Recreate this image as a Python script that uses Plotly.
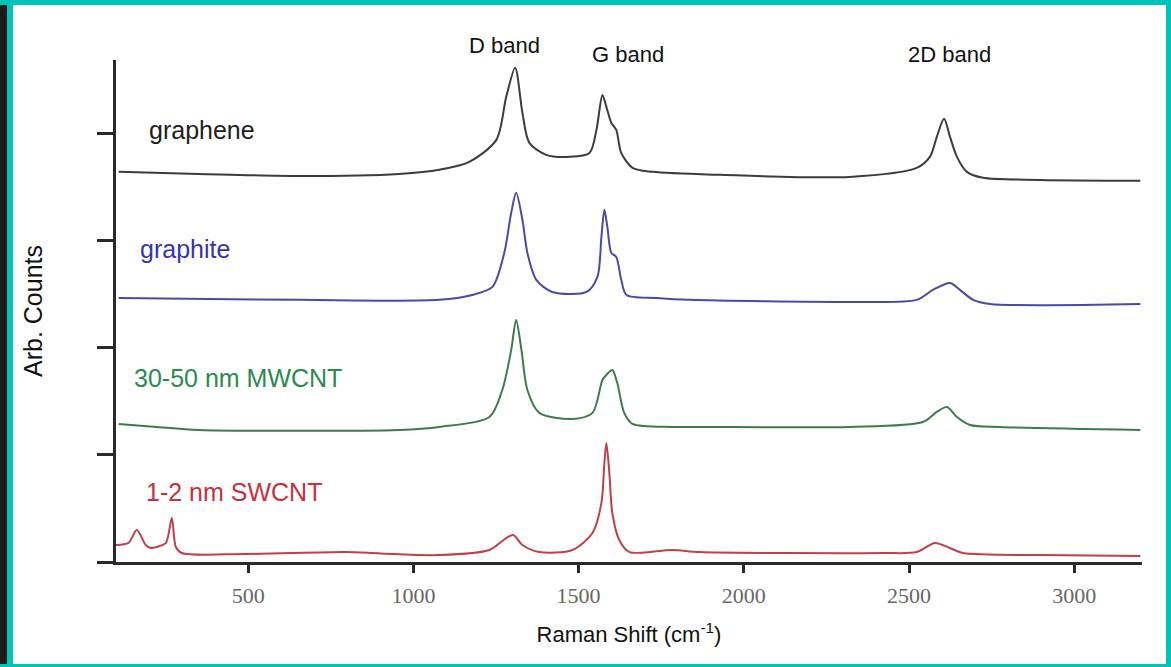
import plotly.graph_objects as go

# Raman shift (cm^-1) and stacked intensity (arb. units) for each sample
graphene_shift = [108, 351, 654, 957, 1078, 1169, 1251, 1281, 1308, 1330, 1351, 1402, 1472, 1533,
                  1554, 1572, 1584, 1599, 1614, 1629, 1663, 1724, 1927, 2320, 2523, 2563, 2584,
                  2606, 2624, 2645, 2675, 2724, 2900, 3200]
graphene_counts = [3.645, 3.626, 3.607, 3.626, 3.664, 3.738, 3.944, 4.346, 4.617, 4.196, 3.916, 3.804,
                   3.785, 3.822, 4.037, 4.364, 4.252, 4.103, 4.037, 3.822, 3.682, 3.645, 3.617, 3.598,
                   3.682, 3.785, 3.972, 4.140, 3.972, 3.785, 3.645, 3.589, 3.570, 3.561]

graphite_shift = [108, 654, 1078, 1178, 1239, 1275, 1296, 1311, 1330, 1345, 1372, 1420, 1524, 1557,
                  1569, 1578, 1587, 1599, 1614, 1629, 1645, 1736, 1836, 2320, 2523, 2572, 2624,
                  2654, 2694, 2745, 3200]
graphite_counts = [2.467, 2.449, 2.449, 2.495, 2.570, 2.888, 3.262, 3.449, 3.196, 2.888, 2.636, 2.523,
                   2.523, 2.664, 3.037, 3.290, 3.131, 2.888, 2.850, 2.636, 2.495, 2.467, 2.449, 2.430,
                   2.449, 2.542, 2.607, 2.542, 2.449, 2.411, 2.411]

mwcnt_shift = [108, 223, 351, 957, 1078, 1230, 1269, 1296, 1311, 1327, 1345, 1381, 1481, 1542, 1572,
               1584, 1602, 1617, 1638, 1663, 1784, 1866, 2320, 2542, 2584, 2615, 2645, 2685, 2775, 3200]
mwcnt_counts = [1.290, 1.262, 1.234, 1.234, 1.262, 1.355, 1.607, 1.981, 2.262, 1.981, 1.607, 1.393,
                1.336, 1.393, 1.701, 1.748, 1.794, 1.673, 1.393, 1.290, 1.262, 1.262, 1.262, 1.308,
                1.402, 1.449, 1.355, 1.280, 1.262, 1.234]

swcnt_shift = [100, 138, 163, 190, 205, 223, 251, 269, 281, 299, 493, 796, 900, 1078, 1230, 1281,
               1302, 1330, 1381, 1481, 1542, 1569, 1578, 1584, 1593, 1602, 1623, 1654, 1784, 1866,
               2420, 2523, 2578, 2624, 2663, 2900, 3200]
swcnt_counts = [0.159, 0.178, 0.299, 0.159, 0.131, 0.140, 0.178, 0.411, 0.140, 0.084, 0.075, 0.093,
                0.080, 0.065, 0.112, 0.224, 0.252, 0.159, 0.093, 0.112, 0.271, 0.551, 0.925, 1.112,
                0.832, 0.458, 0.206, 0.093, 0.112, 0.093, 0.084, 0.093, 0.178, 0.131, 0.084, 0.065,
                0.056]

x_ticks = [500, 1000, 1500, 2000, 2500, 3000]
y_ticks = [0, 1, 2, 3, 4]

series = [
    (graphene_shift, graphene_counts, "#3c3c3c"),
    (graphite_shift, graphite_counts, "#4a4aa6"),
    (mwcnt_shift, mwcnt_counts, "#3f7a4e"),
    (swcnt_shift, swcnt_counts, "#c0404c"),
]

fig = go.Figure()
for xs, ys, col in series:
    fig.add_trace(go.Scatter(x=xs, y=ys, mode="lines",
                             line=dict(color=col, width=2, shape="spline", smoothing=0.8),
                             showlegend=False, hoverinfo="skip"))

sans = "Liberation Sans, Arial, sans-serif"

# page geometry
W, H = 1171, 667
L, R, T, B = 116, 1142, 60, 562
def px(xp):
    return (xp - L) / (R - L)
def py(yp):
    return (B - yp) / (B - T)

sample_labels = [
    ("graphene", 193, 4.04, "#1e1e1e"),
    ("graphite", 168, 2.92, "#3535b0"),
    ("30-50 nm MWCNT", 147, 1.72, "#2a8a50"),
    ("1-2 nm SWCNT", 184, 0.65, "#c8303c"),
]
for txt, xx, yy, col in sample_labels:
    fig.add_annotation(x=xx, y=yy, text=txt, showarrow=False, xanchor="left", yanchor="middle",
                       font=dict(family=sans, size=25, color=col))

# band names sit above the plotting area
band_labels = [("D band", 1275, 45), ("G band", 1648, 54), ("2D band", 2621, 54)]
for txt, xx, yp in band_labels:
    fig.add_annotation(x=xx, xref="x", y=py(yp), yref="paper", text=txt, showarrow=False,
                       xanchor="center", yanchor="middle",
                       font=dict(family=sans, size=22, color="#111111"))

# frame around the page
frame = [
    (0, 0, 7, H, "#1c1c1c"),
    (7, 0, 13, H, "#00c4b8"),
    (0, 0, W, 5, "#00c4b8"),
    (0, 664, W, H, "#00c4b8"),
    (1166, 0, W, H, "#00c4b8"),
]
for x0, y0, x1, y1, col in frame:
    fig.add_shape(type="rect", xref="paper", yref="paper",
                  x0=px(x0), x1=px(x1), y0=py(y1), y1=py(y0),
                  fillcolor=col, line=dict(width=0), layer="above")

fig.update_layout(
    width=W, height=H,
    margin=dict(l=L, r=W - R, t=T, b=H - B),
    paper_bgcolor="white", plot_bgcolor="white",
    xaxis=dict(range=[100, 3205], tickvals=x_ticks, ticktext=[str(v) for v in x_ticks],
               showgrid=False, zeroline=False, showline=True, linecolor="#2a2a2a", linewidth=2.5,
               ticks="outside", ticklen=8, tickwidth=2.5, tickcolor="#2a2a2a",
               tickfont=dict(family="Liberation Serif, Times New Roman, serif", size=22, color="#666666"),
               ticklabelstandoff=4,
               title=dict(text="Raman Shift (cm<sup>-1</sup>)", standoff=20,
                          font=dict(family=sans, size=22, color="#111111"))),
    yaxis=dict(range=[0, 4.69], tickvals=y_ticks, showticklabels=False,
               showgrid=False, zeroline=False, showline=True, linecolor="#2a2a2a", linewidth=2.5,
               ticks="outside", ticklen=16, tickwidth=2.5, tickcolor="#2a2a2a",
               title=dict(text="Arb. Counts", standoff=48,
                          font=dict(family=sans, size=25, color="#111111"))),
)

fig.write_html("out.html")
